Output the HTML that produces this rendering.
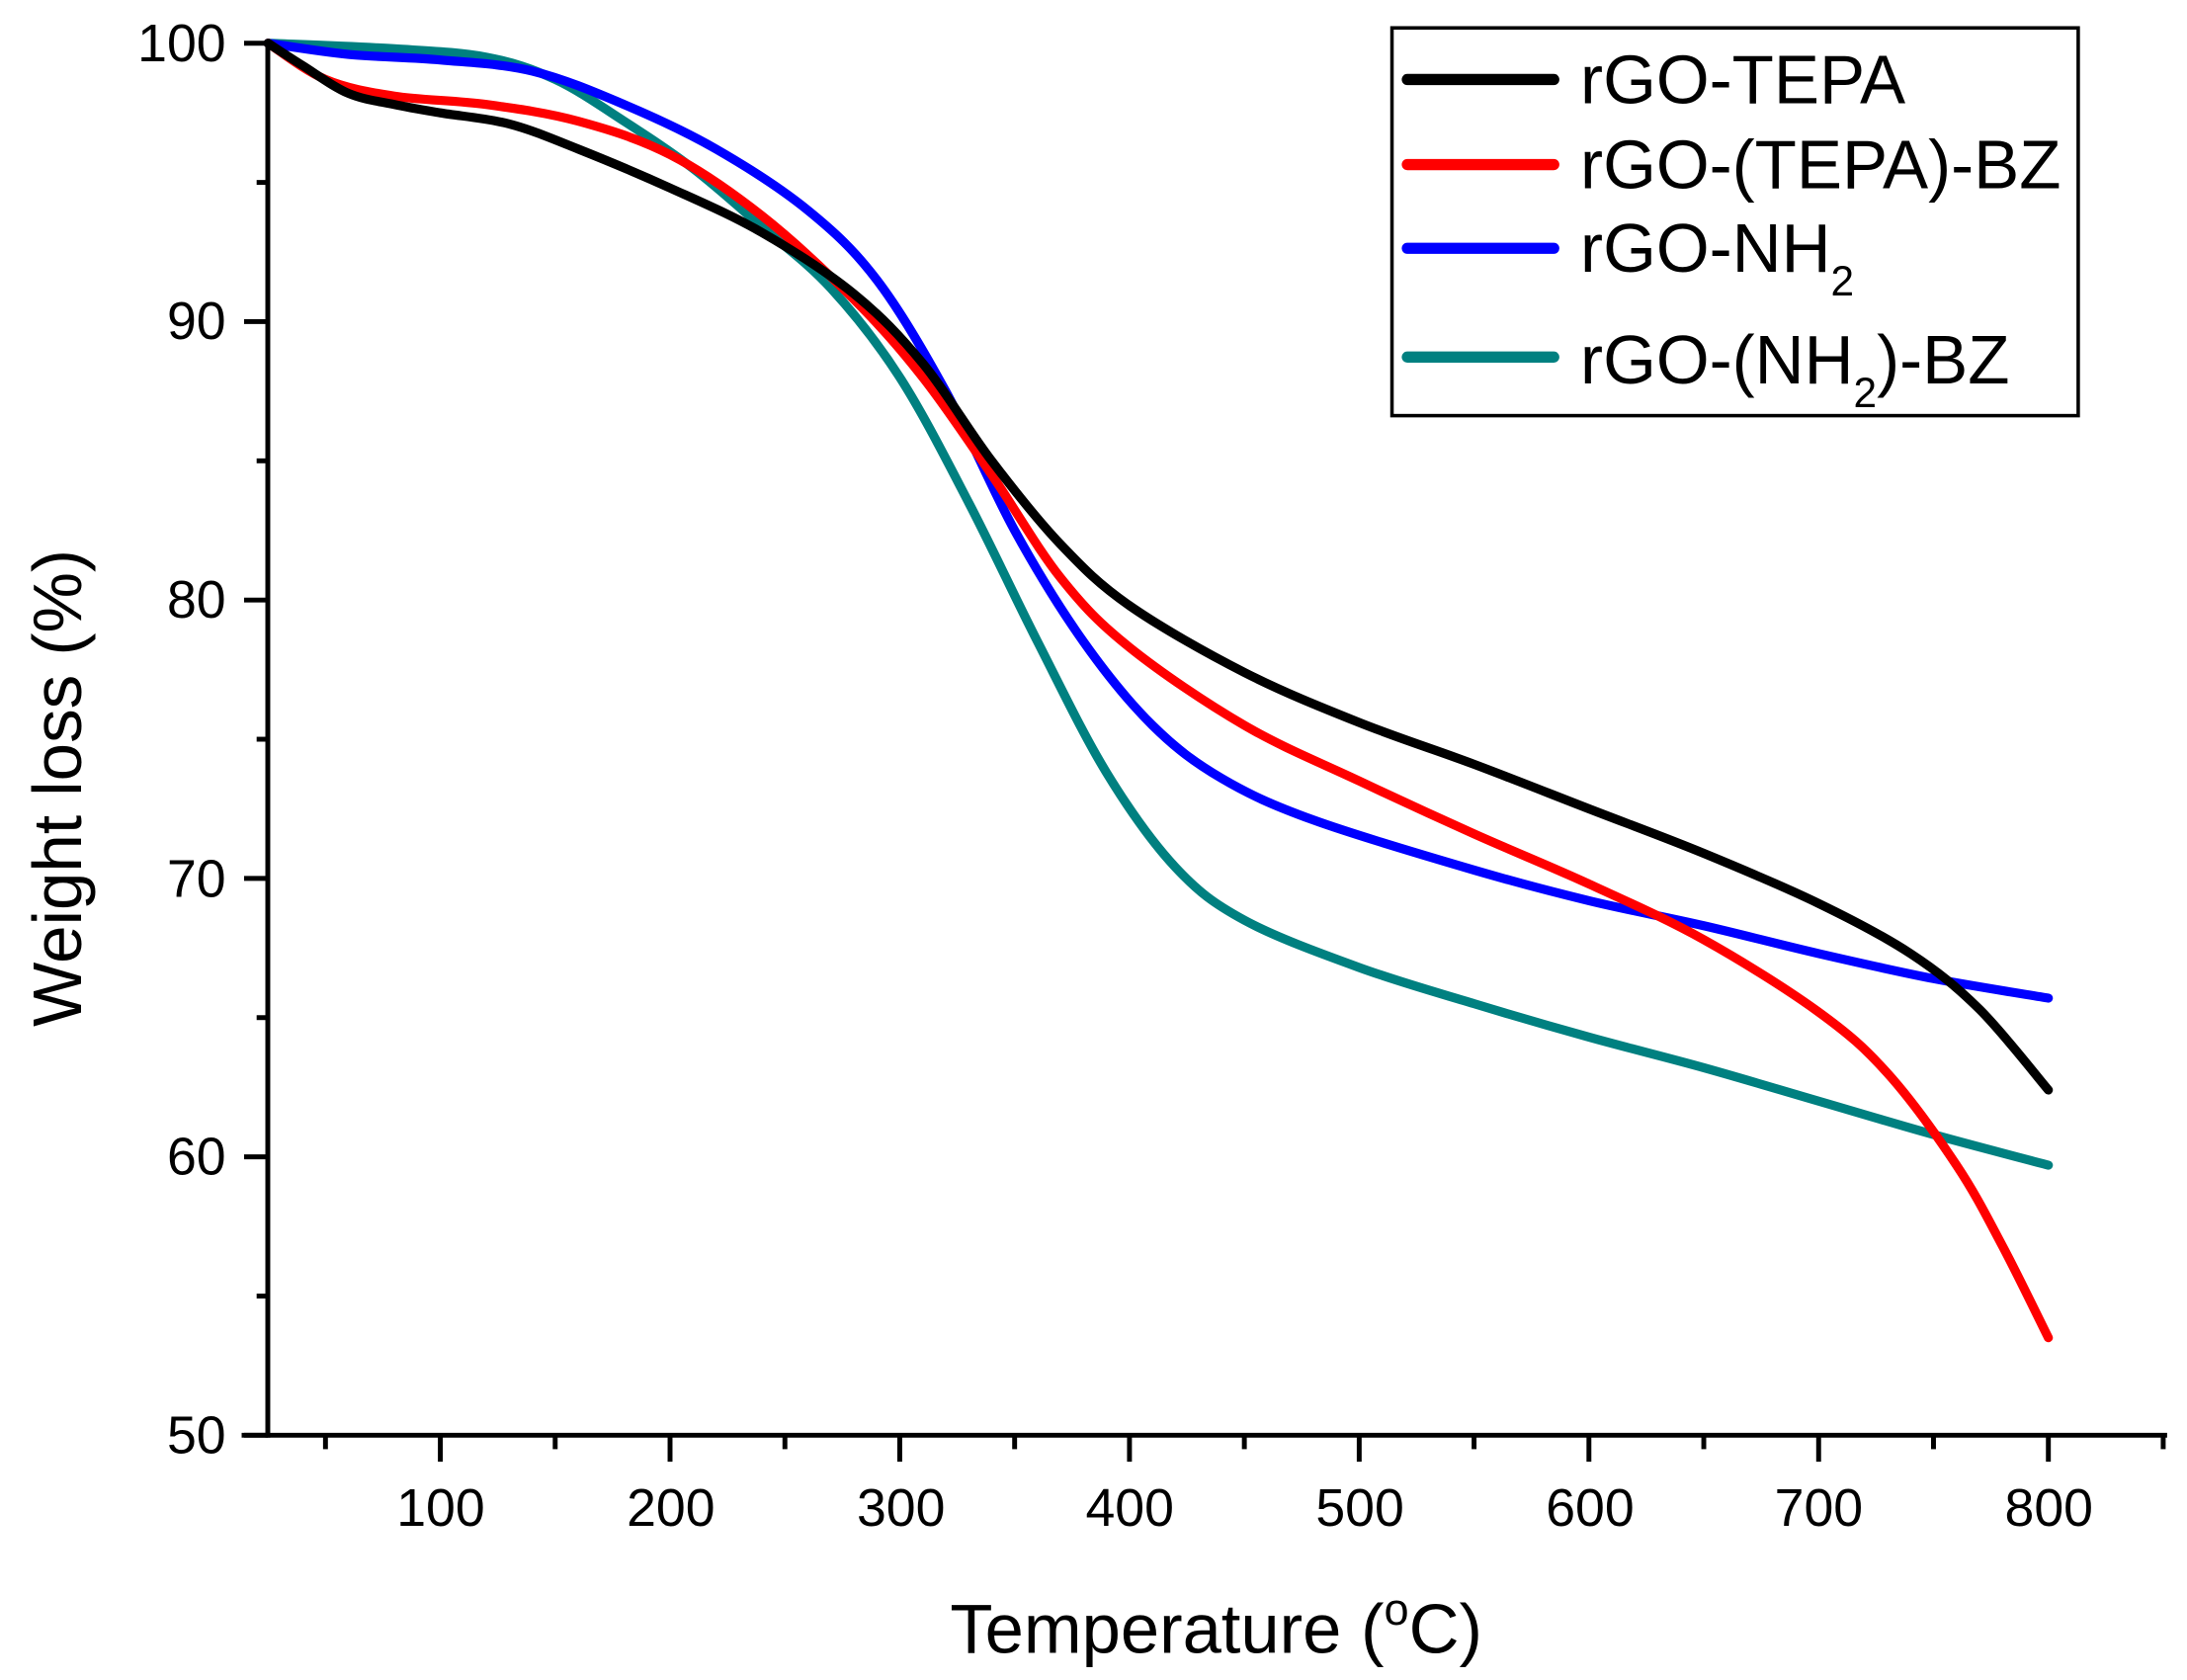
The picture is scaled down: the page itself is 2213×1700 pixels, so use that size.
<!DOCTYPE html>
<html><head><meta charset="utf-8"><style>
html,body{margin:0;padding:0;background:#fff;}
svg{display:block;}
text{font-family:"Liberation Sans",Arial,sans-serif;fill:#000;}
</style></head><body>
<svg id="s" width="2213" height="1700" viewBox="0 0 1568 1204.5" preserveAspectRatio="none" xmlns="http://www.w3.org/2000/svg">
<g id="curves" fill="none" stroke-width="6.5" stroke-linecap="round" stroke-linejoin="round"></g>
<g stroke="#000" stroke-width="3.5" fill="none" stroke-linecap="square">
<line x1="192" y1="31" x2="192" y2="1029"/>
<line x1="175" y1="1029" x2="1552" y2="1029"/>
</g>
<g id="ticks" stroke="#000" stroke-width="3.5"></g>
<g font-size="38" text-anchor="end">
<text x="162" y="44">100</text><text x="162" y="243">90</text><text x="162" y="443">80</text>
<text x="162" y="643">70</text><text x="162" y="842">60</text><text x="162" y="1042">50</text>
</g>
<g font-size="38" text-anchor="middle">
<text x="316" y="1094">100</text><text x="481" y="1094">200</text><text x="646" y="1094">300</text>
<text x="810" y="1094">400</text><text x="975" y="1094">500</text><text x="1140" y="1094">600</text>
<text x="1304" y="1094">700</text><text x="1469" y="1094">800</text>
</g>
<text x="872" y="1185" font-size="50" text-anchor="middle">Temperature (<tspan font-size="32" dy="-20">o</tspan><tspan dy="20">C)</tspan></text>
<text transform="translate(58,565) rotate(-90)" font-size="49" text-anchor="middle">Weight loss (%)</text>
<rect x="998" y="20" width="492" height="278" fill="#fff" stroke="#000" stroke-width="2.5"/>
<g stroke-width="8" stroke-linecap="round">
<line x1="1009" y1="57" x2="1114" y2="57" stroke="#000"/>
<line x1="1009" y1="118" x2="1114" y2="118" stroke="#f00"/>
<line x1="1009" y1="178" x2="1114" y2="178" stroke="#00f"/>
<line x1="1009" y1="256" x2="1114" y2="256" stroke="#008080"/>
</g>
<g font-size="49">
<text x="1133" y="74">rGO-TEPA</text>
<text x="1133" y="135">rGO-(TEPA)-BZ</text>
<text x="1133" y="195">rGO-NH<tspan font-size="30" dy="17">2</tspan></text>
<text x="1133" y="275">rGO-(NH<tspan font-size="30" dy="17">2</tspan><tspan dy="-17">)-BZ</tspan></text>
</g>
</svg>
<script>
var X=function(t){return 151+t*1.647},Y=function(w){return 31+(100-w)*19.96};
var data={
"#000":[[25,100],[40,99.2],[60,98.2],[80,97.8],[100,97.5],[130,97.1],[160,96.2],[200,94.8],[240,93.2],[280,91],[310,88.5],[340,85],[370,82],[400,79.8],[450,77.4],[500,75.6],[550,74.1],[600,72.5],[650,70.9],[700,69.1],[740,67.3],[770,65.3],[800,62.4]],
"#f00":[[25,100],[50,98.7],[80,98.1],[120,97.8],[160,97.2],[200,96],[240,93.8],[280,90.8],[310,88],[340,84.5],[370,80.8],[400,78.3],[450,75.5],[500,73.5],[550,71.6],[600,69.8],[650,67.8],[700,65.2],[730,63],[760,59.7],[780,56.8],[800,53.5]],
"#00f":[[25,100],[60,99.6],[100,99.4],[140,99.0],[180,97.8],[220,96.2],[260,94],[290,91.5],[320,87.5],[350,82.5],[380,78.5],[410,75.5],[440,73.6],[480,72.1],[550,70.3],[600,69.2],[650,68.3],[700,67.3],[750,66.4],[800,65.7]],
"#008080":[[25,100],[80,99.8],[120,99.5],[150,98.7],[180,97.2],[210,95.5],[240,93.4],[270,91.2],[300,88],[330,83.5],[360,78.5],[390,73.8],[420,70.4],[450,68.5],[500,66.8],[550,65.5],[600,64.3],[650,63.2],[700,62],[750,60.8],[800,59.7]]};
var ns="http://www.w3.org/2000/svg",g=document.getElementById("curves");
["#008080","#00f","#f00","#000"].forEach(function(c){
 var p=data[c].map(function(d){return [X(d[0]),Y(d[1])]});
 var s="M"+p[0][0]+","+p[0][1];
 for(var i=0;i<p.length-1;i++){
  var p0=p[i-1]||p[i],p1=p[i],p2=p[i+1],p3=p[i+2]||p2;
  s+=" C"+(p1[0]+(p2[0]-p0[0])/6)+","+(p1[1]+(p2[1]-p0[1])/6)+" "+(p2[0]-(p3[0]-p1[0])/6)+","+(p2[1]-(p3[1]-p1[1])/6)+" "+p2[0]+","+p2[1];
 }
 var e=document.createElementNS(ns,"path");e.setAttribute("d",s);e.setAttribute("stroke",c);g.appendChild(e);
});
var tk=document.getElementById("ticks");
function L(a,b,c,d){var e=document.createElementNS(ns,"line");e.setAttribute("x1",a);e.setAttribute("y1",b);e.setAttribute("x2",c);e.setAttribute("y2",d);tk.appendChild(e);}
for(var w=50;w<=100;w+=5){var y=Y(w);L(w%10==0?175:184,y,192,y);}
for(var t=50;t<=850;t+=50){var x=X(t);L(x,1029,x,t%100==0?1048:1039);}
</script>
</body></html>
